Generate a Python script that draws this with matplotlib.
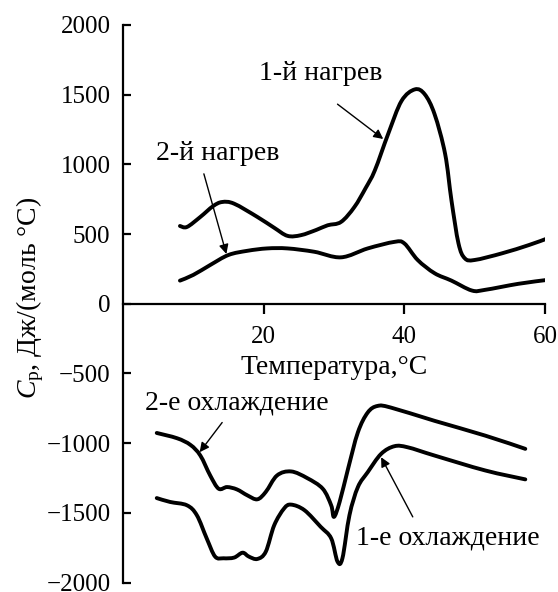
import matplotlib
matplotlib.use("Agg")
import numpy as np
import matplotlib.pyplot as plt
from matplotlib.path import Path
from matplotlib.patches import PathPatch

plt.rcParams["font.family"] = ["Liberation Serif", "DejaVu Serif"]
plt.rcParams["mathtext.fontset"] = "custom"
plt.rcParams["mathtext.rm"] = "Liberation Serif"
plt.rcParams["mathtext.it"] = "Liberation Serif:italic"

# Cp(T) curves, J/(mol °C)
heat1_T = [8.1, 9.1, 11.0, 12.8, 14.1, 15.8, 19.1, 21.5, 23.4, 25.3, 27.5, 29.1,
           31.0, 32.9, 34.5, 35.8, 37.7, 39.6, 41.5, 42.9, 44.3, 45.8, 46.7,
           47.7, 48.6, 50.0, 53.9, 57.7, 60.3]
heat1_Cp = [558, 551, 623, 700, 730, 718, 623, 545, 487, 492, 530, 563,
            587, 694, 830, 956, 1218, 1455, 1538, 1503, 1360, 1075, 742,
            433, 326, 314, 362, 421, 468]

heat2_T = [8.1, 10.0, 12.4, 15.0, 17.7, 20.5, 23.4, 27.2, 31.0, 34.8, 38.6,
           40.0, 41.9, 44.3, 46.7, 49.6, 51.5, 56.2, 60.3]
heat2_Cp = [166, 207, 278, 350, 380, 397, 397, 373, 333, 397, 444,
            433, 314, 219, 166, 95, 100, 143, 171]

cool2_T = [4.8, 7.7, 9.6, 11.0, 12.4, 13.6, 14.8, 16.2, 17.7, 19.1, 20.3, 21.9,
           23.9, 26.2, 28.4, 29.6, 30.0, 30.8, 32.0, 33.4, 34.8, 36.2, 38.1,
           44.3, 51.5, 57.2]
cool2_Cp = [-927, -965, -1013, -1089, -1232, -1327, -1315, -1332, -1375, -1403,
            -1350, -1232, -1203, -1251, -1327, -1446, -1529, -1422, -1184, -922,
            -780, -733, -745, -840, -946, -1041]

cool1_T = [4.8, 6.7, 9.1, 10.5, 11.9, 13.1, 14.3, 15.8, 17.0, 17.9, 19.1, 20.3,
           21.5, 22.9, 23.9, 25.8, 28.1, 29.6, 30.5, 31.2, 32.2, 33.4, 34.8,
           36.7, 38.6, 40.5, 44.3, 51.5, 57.2]
cool1_Cp = [-1394, -1422, -1446, -1517, -1683, -1814, -1826, -1821, -1786, -1814,
            -1831, -1779, -1589, -1469, -1441, -1481, -1600, -1683, -1850, -1826,
            -1517, -1315, -1208, -1077, -1022, -1030, -1089, -1196, -1260]

x_ticks = [20, 40, 60]
y_ticks = [-2000, -1500, -1000, -500, 0, 500, 1000, 1500, 2000]

FS_TICK = 18
FS = 20


def smooth_path(x, y):
    # cubic Bezier segments through the points (Catmull-Rom tangents)
    p = np.column_stack([x, y]).astype(float)
    n = len(p)
    verts = [p[0]]
    codes = [Path.MOVETO]
    for i in range(n - 1):
        p0 = p[i - 1] if i > 0 else p[i]
        p3 = p[i + 2] if i + 2 < n else p[i + 1]
        c1 = p[i] + (p[i + 1] - p0) / 6.0
        c2 = p[i + 1] - (p3 - p[i]) / 6.0
        verts += [c1, c2, p[i + 1]]
        codes += [Path.CURVE4] * 3
    return Path(verts, codes)


fig = plt.figure(figsize=(5.58, 5.92), dpi=100)
ax = fig.add_axes([0.2204, 0.0160, 0.7563, 0.9418])

for T, cp in [(heat1_T, heat1_Cp), (heat2_T, heat2_Cp),
              (cool2_T, cool2_Cp), (cool1_T, cool1_Cp)]:
    ax.add_patch(PathPatch(smooth_path(T, cp), facecolor="none", edgecolor="black",
                           lw=2.8, joinstyle="round", capstyle="round"))

ax.set_xlim(0, 60)
ax.set_ylim(-2000, 2000)
ax.spines["top"].set_visible(False)
ax.spines["right"].set_visible(False)
ax.spines["bottom"].set_position(("data", 0))
for s in ("left", "bottom"):
    ax.spines[s].set_linewidth(1.6)

ax.set_xticks(x_ticks)
ax.set_yticks(y_ticks)
ax.tick_params(axis="x", direction="out", length=7, width=1.6, labelsize=FS_TICK, pad=9)
ax.tick_params(axis="y", direction="in", length=6, width=1.6, labelsize=FS_TICK, pad=9)

ax.text(30, -460, "Температура,°C", fontsize=FS, ha="center", va="center")
fig.text(0.054, 0.497, "$C_\\mathrm{p}$, Дж/(моль °C)", fontsize=FS,
         rotation=90, ha="center", va="center")

arrow = dict(arrowstyle="-|>", color="black", lw=1.0, mutation_scale=14,
             shrinkA=0, shrinkB=0)
ax.text(28.1, 1650, "1-й нагрев", fontsize=FS, ha="center", va="center")
ax.annotate("", xy=(37.0, 1182), xytext=(30.5, 1432), arrowprops=arrow)
ax.text(13.4, 1080, "2-й нагрев", fontsize=FS, ha="center", va="center")
ax.annotate("", xy=(14.7, 357), xytext=(11.5, 932), arrowprops=arrow)
ax.text(16.2, -709, "2-е охлаждение", fontsize=FS, ha="center", va="center")
ax.annotate("", xy=(10.9, -1065), xytext=(14.1, -852), arrowprops=arrow)
ax.text(46.2, -1683, "1-е охлаждение", fontsize=FS, ha="center", va="center")
ax.annotate("", xy=(36.7, -1101), xytext=(41.2, -1529), arrowprops=arrow)

fig.savefig("out.png", dpi=100)
